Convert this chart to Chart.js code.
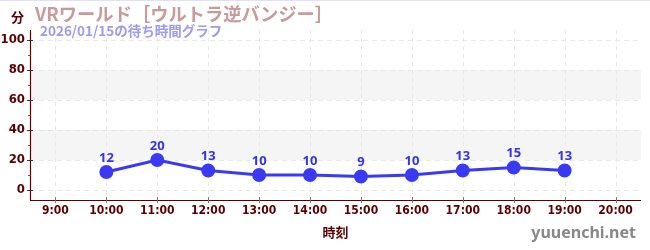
<!DOCTYPE html>
<html><head><meta charset="utf-8">
<script src="https://cdn.jsdelivr.net/npm/chart.js@4"></script>
<style>html,body{margin:0;padding:0;background:#fff;}#wrap{width:650px;height:250px;position:relative;}</style>
</head><body><div id="wrap"><canvas id="c" width="650" height="250"></canvas></div>
<script>
const categories = ["9:00","10:00","11:00","12:00","13:00","14:00","15:00","16:00","17:00","18:00","19:00","20:00"];
const waitTimes = [null,12,20,13,10,10,9,10,13,15,13,null];
const yTicks = [0,20,40,60,80,100];
const yMinorTicks = [10,30,50,70,90];
const bands = [[20,40],[60,80]];
const titleText = "VRワールド［ウルトラ逆バンジー］";
const subtitleText = "2026/01/15の待ち時間グラフ";
const yUnit = "分";
const xTitle = "時刻";
const watermark = "yuuenchi.net";

const AXIS = '#5a0000';
const JP = '"Noto Sans CJK JP","Noto Sans",sans-serif';
const NARROW = '"Liberation Sans Narrow","DejaVu Sans Condensed",sans-serif';

const deco = {
  id:'deco',
  beforeDatasetsDraw(chart){
    const {ctx, chartArea:a, scales:{x,y}} = chart;
    ctx.save();
    ctx.fillStyle = '#f5f5f5';
    bands.forEach(([lo,hi])=>{
      const t = y.getPixelForValue(hi), b = y.getPixelForValue(lo);
      ctx.fillRect(a.left, t, a.right-a.left, b-t);
    });
    ctx.strokeStyle = '#e8e8e8'; ctx.lineWidth = 1; ctx.setLineDash([5,4]);
    yTicks.forEach(v=>{ const py = Math.round(y.getPixelForValue(v))+0.5;
      ctx.beginPath(); ctx.moveTo(a.left, py); ctx.lineTo(a.right, py); ctx.stroke(); });
    ctx.setLineDash([4,4]);
    categories.forEach((c,i)=>{ const px = Math.round(x.getPixelForValue(i))+0.5;
      ctx.beginPath(); ctx.moveTo(px, a.top); ctx.lineTo(px, a.bottom); ctx.stroke(); });
    ctx.restore();
  },
  afterDraw(chart){
    const {ctx, chartArea:a, scales:{x,y}} = chart;
    ctx.save();
    ctx.strokeStyle = AXIS; ctx.lineWidth = 1.2; ctx.setLineDash([]);
    ctx.beginPath(); ctx.moveTo(a.left+0.5, a.top); ctx.lineTo(a.left+0.5, a.bottom+0.5); ctx.lineTo(a.right, a.bottom+0.5); ctx.stroke();
    ctx.strokeStyle = '#333'; ctx.lineWidth = 1;
    yTicks.forEach(v=>{ const py = Math.round(y.getPixelForValue(v))+0.5;
      ctx.beginPath(); ctx.moveTo(a.left-3, py); ctx.lineTo(a.left+3, py); ctx.stroke(); });
    ctx.strokeStyle = '#dd2222';
    yMinorTicks.forEach(v=>{ const py = Math.round(y.getPixelForValue(v))+0.5;
      ctx.beginPath(); ctx.moveTo(a.left-2, py); ctx.lineTo(a.left+0.5, py); ctx.stroke(); });
    ctx.strokeStyle = '#777';
    categories.forEach((c,i)=>{ const px = Math.round(x.getPixelForValue(i))+0.5;
      ctx.beginPath(); ctx.moveTo(px, a.bottom-3); ctx.lineTo(px, a.bottom+3); ctx.stroke(); });
    ctx.fillStyle = '#3434e6'; ctx.font = 'bold 13px "Noto Sans",sans-serif';
    ctx.textAlign = 'center'; ctx.textBaseline = 'middle';
    const meta = chart.getDatasetMeta(0);
    meta.data.forEach((pt,i)=>{ if (waitTimes[i]==null) return; ctx.fillText(String(waitTimes[i]), pt.x, pt.y-14); });
    ctx.textAlign = 'left';
    ctx.fillStyle = '#c99a9a'; ctx.font = 'bold 18.3px '+JP; ctx.fillText(titleText, 35, 14);
    ctx.fillStyle = '#9b9bef'; ctx.font = 'bold 13.5px '+JP; ctx.fillText(subtitleText, 40, 31);
    ctx.fillStyle = AXIS; ctx.font = 'bold 13px '+JP; ctx.fillText(yUnit, 11, 17);
    ctx.textAlign = 'center';
    ctx.fillText(xTitle, (a.left+a.right)/2, 232);
    ctx.textAlign = 'right'; ctx.fillStyle = '#888888'; ctx.font = 'bold 16px "Noto Sans",sans-serif';
    ctx.fillText(watermark, 636, 233);
    ctx.fillStyle = '#e0e0f8'; ctx.fillRect(0,0,650,1);
    ctx.restore();
  }
};

new Chart(document.getElementById('c'), {
  type:'line',
  data:{ labels:categories, datasets:[{ data:waitTimes, borderColor:'#3a3af5', backgroundColor:'#3a3af5',
    borderWidth:3, pointRadius:5.5, pointHoverRadius:5.5, tension:0, spanGaps:false }]},
  options:{
    responsive:false, animation:false, devicePixelRatio:1,
    layout:{ padding:{ top:30, right:9, left:0, bottom:0 } },
    plugins:{ legend:{display:false}, tooltip:{enabled:false} },
    scales:{
      x:{ type:'category', offset:true,
        grid:{ display:false, drawTicks:false }, border:{display:false},
        ticks:{ color:AXIS, padding:4, font:{ family:NARROW, size:12, weight:'bold' }, maxRotation:0, autoSkip:false },
        afterFit(s){ s.height = 50; } },
      y:{ min:-6.67, max:106.67,
        afterBuildTicks(s){ s.ticks = yTicks.map(v=>({value:v})); },
        grid:{ display:false, drawTicks:false }, border:{display:false},
        ticks:{ color:AXIS, padding:5, font:{ family:NARROW, size:13, weight:'bold' } },
        afterFit(s){ s.width = 30; } }
    }
  },
  plugins:[deco]
});
</script></body></html>
